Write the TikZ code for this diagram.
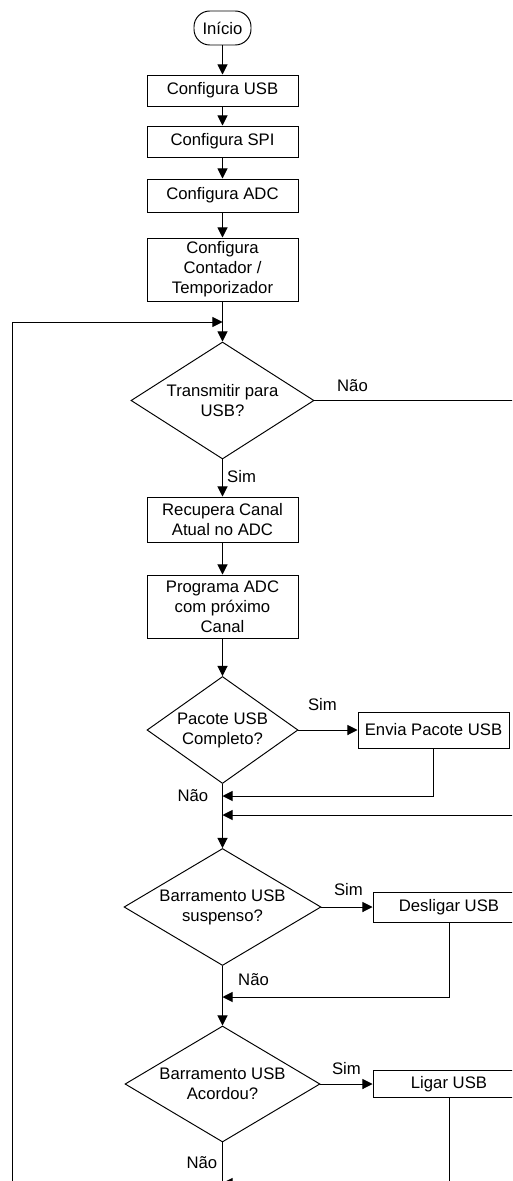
\documentclass[tikz,border=0pt]{standalone}
\usepackage{fontspec}
\setmainfont{Liberation Sans}
\usetikzlibrary{arrows.meta,shapes.geometric,calc}

\begin{document}
\begin{tikzpicture}[
    line width=0.55pt,
    every node/.style={font=\fontsize{9.5}{11.4}\selectfont},
    proc/.style={draw, rectangle, align=center, minimum width=3.02cm, inner sep=1pt},
    term/.style={draw, rounded corners=9pt, minimum width=1.14cm, minimum height=0.68cm, inner sep=1pt},
    decide/.style={draw, diamond, align=center, inner sep=0pt},
    lbl/.style={inner sep=1pt},
    arr/.style={-{Triangle[length=5.8pt,width=5.8pt]}}
]
    \useasboundingbox (0,0) rectangle (10.24,-23.62);
    \clip (0,0) rectangle (10.24,-23.62);
    \fill[white] (0,0) rectangle (10.24,-23.62);

    % --- Configuracao ---
    \node[term] (inicio) at (4.45,-0.56) {Início};
    \node[proc, minimum height=0.62cm] (cfgusb) at (4.45,-1.81) {Configura USB};
    \node[proc, minimum height=0.62cm] (cfgspi) at (4.45,-2.83) {Configura SPI};
    \node[proc, minimum height=0.66cm] (cfgadc) at (4.45,-3.91) {Configura ADC};
    \node[proc, minimum height=1.26cm] (cfgtmr) at (4.45,-5.39) {Configura\\Contador /\\Temporizador};

    \draw[arr] (inicio) -- (cfgusb);
    \draw[arr] (cfgusb) -- (cfgspi);
    \draw[arr] (cfgspi) -- (cfgadc);
    \draw[arr] (cfgadc) -- (cfgtmr);

    % --- Laco principal ---
    \coordinate (laco) at (4.45,-6.44);
    \coordinate (lacoesq) at (0.24,-6.44);
    \coordinate (lacofim) at (0.24,-24);
    \draw[arr] (lacofim) -- (lacoesq) -- (laco);

    % --- Transmitir ---
    \node[decide, minimum width=3.66cm, minimum height=2.34cm, shape aspect=1.56] (tx) at (4.45,-8.01) {Transmitir para\\USB?};
    \node[proc, minimum height=0.9cm] (recup) at (4.45,-10.39) {Recupera Canal\\Atual no ADC};
    \node[proc, minimum height=1.26cm] (prog) at (4.45,-12.13) {Programa ADC\\com próximo\\Canal};

    \draw[arr] (cfgtmr) -- (tx);
    \draw[arr] (tx) -- (recup);
    \node[lbl, anchor=west] at ($(tx.south)+(0.05,-0.34)$) {Sim};
    \draw[arr] (recup) -- (prog);

    \coordinate (txdir) at (10.6,-8.01);
    \node[lbl] at ($(tx.east)+(0.76,0.3)$) {Não};

    % --- Pacote USB ---
    \node[decide, minimum width=3.02cm, minimum height=2.14cm, shape aspect=1.41] (pacote) at (4.45,-14.6) {Pacote USB\\Completo?};
    \node[proc, minimum height=0.72cm] (envia) at (8.67,-14.6) {Envia Pacote USB};

    \draw[arr] (prog) -- (pacote);
    \draw[arr] (pacote) -- (envia);
    \node[lbl] at ($(pacote.east)+(0.48,0.5)$) {Sim};

    \coordinate (j1) at (4.45,-15.92);
    \coordinate (j2) at (4.45,-16.3);
    \draw[arr] (envia) |- (j1);
    \draw[arr] (tx.east) -- (txdir) |- (j2);
    \node[lbl, anchor=east] at ($(j1)+(-0.24,0)$) {Não};

    % --- Barramento suspenso ---
    \node[decide, minimum width=3.94cm, minimum height=2.34cm, shape aspect=1.68] (susp) at (4.45,-18.14) {Barramento USB\\suspenso?};
    \node[proc, minimum height=0.6cm, minimum width=3.04cm] (deslig) at (8.98,-18.14) {Desligar USB};

    \draw[arr] (pacote) -- (susp);
    \draw[arr] (susp) -- (deslig);
    \node[lbl] at ($(susp.east)+(0.54,0.34)$) {Sim};

    \coordinate (j3) at (4.45,-19.94);
    \draw[arr] (deslig) |- (j3);
    \node[lbl, anchor=west] at ($(susp.south)+(0.27,-0.28)$) {Não};

    % --- Barramento acordou ---
    \node[decide, minimum width=3.9cm, minimum height=2.32cm, shape aspect=1.68] (acord) at (4.45,-21.68) {Barramento USB\\Acordou?};
    \node[proc, minimum height=0.54cm, minimum width=3.04cm] (liga) at (8.98,-21.68) {Ligar USB};

    \draw[arr] (susp) -- (acord);
    \draw[arr] (acord) -- (liga);
    \node[lbl] at ($(acord.east)+(0.52,0.3)$) {Sim};

    \coordinate (j4) at (4.45,-23.66);
    \coordinate (fim) at (4.45,-24);
    \draw (acord) -- (fim);
    \draw[arr] (liga) |- (j4);
    \node[lbl, anchor=east] at ($(acord.south)+(-0.06,-0.4)$) {Não};
\end{tikzpicture}
\end{document}
